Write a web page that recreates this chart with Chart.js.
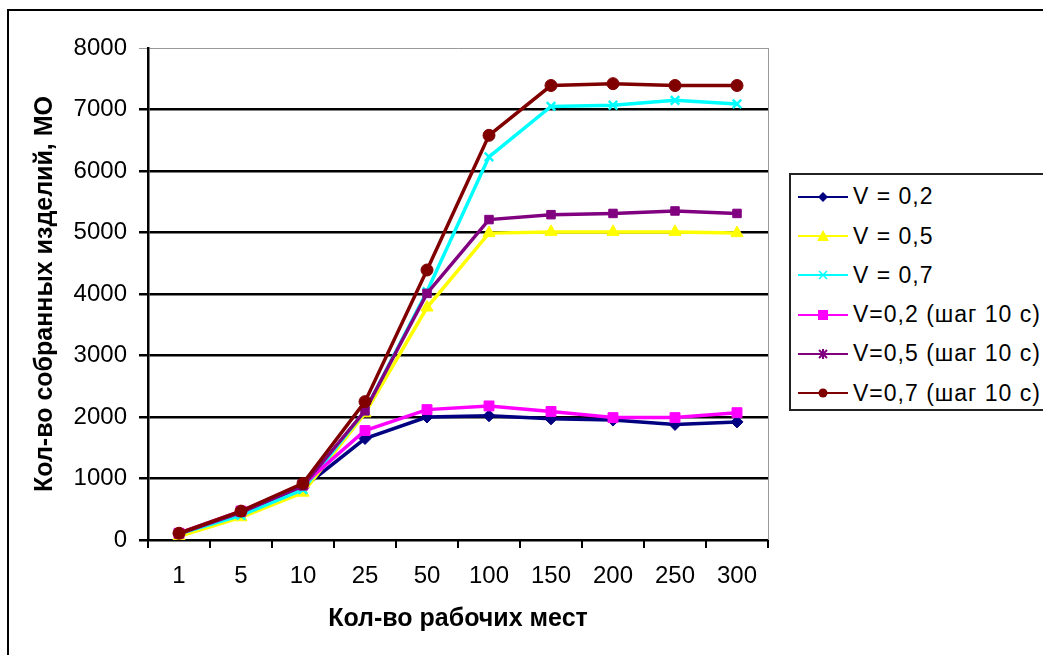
<!DOCTYPE html>
<html>
<head>
<meta charset="utf-8">
<title>Кол-во собранных изделий</title>
<script src="https://cdn.jsdelivr.net/npm/chart.js@4"></script>
<style>
  body { margin: 0; background: #fff; font-family: Arial, "Liberation Sans", sans-serif; }
  #wrap { position: relative; width: 1043px; height: 655px; overflow: hidden; }
  #frame { position: absolute; left: 7px; top: 9px; width: 1100px; height: 700px;
           border-left: 2px solid #000; border-top: 2px solid #000; }
  canvas { position: absolute; left: 0; top: 0; }
  #legend { position: absolute; left: 789px; top: 173px; width: 300px; height: 234px;
            border: 2px solid #222; background: #fff; }
  .row { position: absolute; left: 7px; height: 24px; display: flex; align-items: center;
         font-size: 23px; letter-spacing: 1px; color: #000; white-space: nowrap; }
  .row svg { width: 50px; height: 20px; margin-right: 5px; }
</style>
</head>
<body>
<div id="wrap">
  <div id="frame"></div>
  <canvas id="chart" width="1043" height="655"></canvas>
  <div id="legend"></div>
</div>
<script>
// categories (x axis)
const workplaces = ['1', '5', '10', '25', '50', '100', '150', '200', '250', '300'];

// series values
const v02 = [100, 430, 850, 1650, 2000, 2020, 1970, 1950, 1880, 1920];
const v05 = [60, 370, 770, 2060, 3780, 4990, 5010, 5010, 5010, 4990];
const v07 = [100, 400, 820, 2100, 4040, 6230, 7050, 7070, 7150, 7090];
const v02step = [110, 470, 900, 1780, 2120, 2180, 2090, 1990, 1990, 2070];
const v05step = [100, 450, 880, 2100, 4010, 5210, 5290, 5310, 5350, 5310];
const v07step = [110, 470, 920, 2250, 4390, 6580, 7390, 7420, 7390, 7390];

const yTicks = [0, 1000, 2000, 3000, 4000, 5000, 6000, 7000, 8000];

const series = [
    { label: 'V = 0,2', data: v02, color: '#000080', style: 'rectRot', radius: 6, legend: 'diamond' },
    { label: 'V = 0,5', data: v05, color: '#FFFF00', style: 'triangle', radius: 7, legend: 'triangle' },
    { label: 'V = 0,7', data: v07, color: '#00FFFF', style: 'crossRot', radius: 6, legend: 'cross' },
    { label: 'V=0,2 (шаг 10 с)', data: v02step, color: '#FF00FF', style: 'rect', radius: 7, legend: 'square' },
    { label: 'V=0,5 (шаг 10 с)', data: v05step, color: '#800080', style: 'rect', radius: 6, legend: 'star' },
    { label: 'V=0,7 (шаг 10 с)', data: v07step, color: '#800000', style: 'circle', radius: 6, legend: 'circle' }
];

const plotFrame = {
    id: 'plotFrame',
    beforeDatasetsDraw(chart) {
        const { ctx, chartArea: a } = chart;
        ctx.save();
        ctx.strokeStyle = '#999';
        ctx.lineWidth = 1;
        ctx.beginPath();
        ctx.moveTo(a.right + 0.5, a.top);
        ctx.lineTo(a.right + 0.5, a.bottom);
        ctx.stroke();
        ctx.restore();
    }
};

const tickFont = { family: 'Arial, "Liberation Sans", sans-serif', size: 24 };
const titleFont = { family: 'Arial, "Liberation Sans", sans-serif', size: 25, weight: 'bold' };

new Chart(document.getElementById('chart'), {
    type: 'line',
    data: {
        labels: workplaces,
        datasets: series.map((s, i) => ({
            label: s.label,
            data: s.data,
            borderColor: s.color,
            backgroundColor: s.color,
            borderWidth: 3.5,
            pointStyle: s.style,
            pointRadius: s.radius,
            pointBorderWidth: s.style === 'crossRot' ? 2.5 : 1,
            pointBackgroundColor: s.color,
            pointBorderColor: s.color,
            tension: 0,
            fill: false,
            order: series.length - i
        }))
    },
    options: {
        responsive: false,
        animation: false,
        devicePixelRatio: 1,
        layout: { padding: { left: 0, top: 48, right: 275, bottom: 0 } },
        plugins: { legend: { display: false }, tooltip: { enabled: false } },
        scales: {
            x: {
                offset: true,
                grid: { offset: true, drawOnChartArea: false, color: '#000', lineWidth: 2, tickLength: 8 },
                border: { color: '#000', width: 2 },
                ticks: { font: tickFont, color: '#000', padding: 14, maxRotation: 0 },
                title: { display: true, text: 'Кол-во рабочих мест', font: titleFont, color: '#000',
                         padding: { top: 0, bottom: 21 } },
                afterFit: s => { s.height = 115; }
            },
            y: {
                min: 0,
                max: 8000,
                afterBuildTicks: s => { s.ticks = yTicks.map(v => ({ value: v })); },
                grid: {
                    color: c => (c.tick && c.tick.value === 8000 ? '#999' : '#000'),
                    lineWidth: c => (c.tick && c.tick.value === 8000 ? 1 : 2.5),
                    tickLength: 9
                },
                border: { color: '#000', width: 2.5 },
                ticks: { font: tickFont, color: '#000', padding: 12, callback: v => String(v) },
                title: { display: true, text: 'Кол-во собранных изделий, МО', font: titleFont, color: '#000',
                         padding: { top: 30, bottom: 0 } },
                afterFit: s => { s.width = 148; }
            }
        }
    },
    plugins: [plotFrame]
});

// legend box with line + marker samples
function markerSvg(kind, c) {
    const cx = 25, cy = 10;
    switch (kind) {
        case 'diamond': return `<polygon points="${cx},${cy - 5} ${cx + 5},${cy} ${cx},${cy + 5} ${cx - 5},${cy}" fill="${c}"/>`;
        case 'triangle': return `<polygon points="${cx},${cy - 6} ${cx + 6},${cy + 5} ${cx - 6},${cy + 5}" fill="${c}"/>`;
        case 'cross': return `<path d="M${cx - 4} ${cy - 4}L${cx + 4} ${cy + 4}M${cx + 4} ${cy - 4}L${cx - 4} ${cy + 4}" stroke="${c}" stroke-width="1.5"/>`;
        case 'square': return `<rect x="${cx - 5}" y="${cy - 5}" width="10" height="10" fill="${c}"/>`;
        case 'star': return `<path d="M${cx - 4} ${cy - 4}L${cx + 4} ${cy + 4}M${cx + 4} ${cy - 4}L${cx - 4} ${cy + 4}M${cx} ${cy - 5}L${cx} ${cy + 5}" stroke="${c}" stroke-width="2"/>`;
        default: return `<circle cx="${cx}" cy="${cy}" r="4.5" fill="${c}"/>`;
    }
}

const legend = document.getElementById('legend');
series.forEach((s, i) => {
    const row = document.createElement('div');
    row.className = 'row';
    row.style.top = (9.7 + 39.3 * i) + 'px';
    row.innerHTML = `<svg viewBox="0 0 50 20"><line x1="0" y1="10" x2="50" y2="10" stroke="${s.color}" stroke-width="2"/>${markerSvg(s.legend, s.color)}</svg><span>${s.label}</span>`;
    legend.appendChild(row);
});
</script>
</body>
</html>
